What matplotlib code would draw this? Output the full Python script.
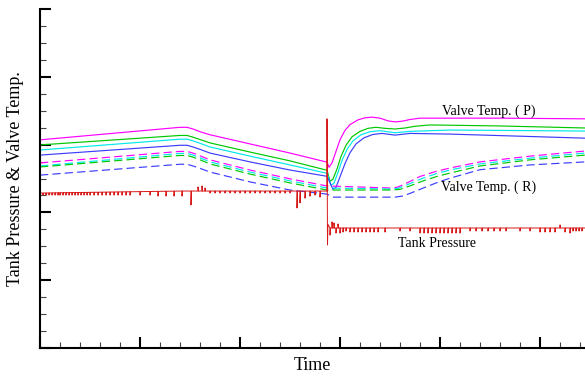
import matplotlib
matplotlib.use('Agg')
import matplotlib.pyplot as plt
from matplotlib.ticker import MultipleLocator, NullFormatter

plt.rcParams['font.family'] = ['Liberation Serif', 'DejaVu Serif']

# valve temperatures (P side, solid lines)
p_mag_t = [0, 140, 147, 153, 160, 170, 210, 250, 286, 287, 289, 292, 296, 300, 305, 310, 318, 325, 332, 340, 348, 355, 362, 370, 380, 460, 545]
p_mag_v = [61.4, 65.1, 65.1, 64.6, 63.8, 62.9, 60.2, 57.5, 54.9, 54.9, 53.3, 54.6, 58.0, 61.4, 64.2, 65.9, 67.3, 67.9, 68.1, 67.8, 67.0, 66.7, 66.9, 67.4, 67.8, 67.8, 67.6]
p_grn_t = [0, 140, 147, 153, 160, 170, 210, 250, 286, 287, 290, 293, 297, 301, 306, 312, 320, 328, 336, 345, 355, 365, 375, 390, 460, 545]
p_grn_v = [59.9, 62.7, 62.7, 62.2, 61.5, 60.5, 57.8, 55.2, 52.5, 52.5, 49.2, 49.8, 52.8, 56.5, 59.8, 62.3, 63.9, 64.8, 65.1, 64.8, 64.6, 64.9, 65.4, 65.8, 65.5, 64.9]
p_cyn_t = [0, 140, 147, 153, 160, 170, 210, 250, 286, 287, 291, 294, 298, 302, 307, 313, 321, 330, 340, 355, 370, 410, 545]
p_cyn_v = [58.4, 61.6, 61.6, 61.1, 60.4, 59.3, 56.6, 54.0, 51.6, 51.6, 48.0, 48.6, 51.8, 55.3, 58.6, 61.1, 62.9, 63.8, 64.1, 63.5, 63.9, 64.3, 64.0]
p_blu_t = [0, 140, 147, 153, 160, 170, 210, 250, 286, 287, 293, 296, 300, 305, 310, 316, 324, 333, 342, 355, 370, 410, 545]
p_blu_v = [56.9, 59.8, 59.8, 59.3, 58.6, 57.5, 54.9, 52.5, 50.7, 50.7, 46.8, 47.4, 50.5, 54.4, 57.6, 60.2, 62.0, 63.0, 63.3, 62.8, 63.3, 63.1, 61.9]

# valve temperatures (R side, dashed lines)
r_mag_t = [0, 140, 147, 153, 160, 170, 210, 250, 287, 350, 357, 365, 380, 395, 410, 440, 490, 545]
r_mag_v = [54.6, 58.0, 58.0, 57.5, 56.7, 55.5, 52.5, 49.9, 47.8, 47.2, 47.4, 48.4, 50.6, 52.0, 53.1, 54.9, 56.6, 58.1]
r_cyn_t = [0, 140, 147, 153, 160, 170, 210, 250, 287, 350, 358, 366, 382, 396, 410, 440, 490, 545]
r_cyn_v = [53.7, 57.4, 57.4, 56.9, 56.1, 54.9, 51.9, 49.3, 47.2, 46.9, 47.1, 48.0, 50.0, 51.4, 52.5, 54.3, 56.0, 57.5]
r_grn_t = [0, 140, 147, 153, 160, 170, 210, 250, 287, 352, 360, 368, 385, 398, 410, 440, 490, 545]
r_grn_v = [53.4, 56.8, 56.8, 56.3, 55.5, 54.3, 51.3, 48.7, 46.6, 46.6, 46.8, 47.6, 49.5, 50.7, 51.6, 53.7, 55.5, 56.9]
r_blu_t = [0, 140, 147, 153, 160, 170, 210, 250, 287, 293, 355, 362, 370, 385, 398, 410, 440, 490, 545]
r_blu_v = [51.0, 54.2, 54.2, 53.7, 53.0, 51.9, 49.0, 46.6, 45.4, 44.5, 44.5, 44.8, 45.6, 47.4, 48.9, 50.1, 52.6, 54.0, 54.9]

# tank pressure: base levels and spike tips
tp_base_t = [0, 140, 287, 288, 545]
tp_base_v = [45.7, 46.3, 46.3, 35.4, 35.4]
tp_spike_t = [3, 6, 9, 12, 15, 18, 20, 23, 26, 29, 32, 35, 38, 41, 44, 47, 50, 54, 58, 62, 66, 70, 74,
              78, 82, 86, 90, 100, 110, 118, 126, 134, 142,
              151, 158, 162, 165, 170, 175, 180, 185, 190, 195, 200, 205, 210, 215, 220, 225, 230, 235,
              240, 245, 250, 257, 260, 265, 270, 275, 280,
              287, 287.5,
              290, 292, 294, 296, 298, 300, 303, 306, 310, 314, 318, 322, 326, 330, 334, 338, 345, 360, 370,
              380, 384, 388, 392, 396, 400, 404, 408, 412, 416, 420, 430, 436, 442, 448, 454, 460, 466,
              480, 490, 500, 505, 510, 515, 520, 525, 530, 533, 536, 539, 542]
tp_spike_v = [45.1, 45.1, 45.1, 45.1, 45.1, 45.1, 45.1, 45.1, 45.1, 45.1, 45.1, 45.1, 45.1, 45.1, 45.1,
              45.1, 45.1, 45.1, 45.1, 45.1, 45.1, 45.1, 45.1, 45.1, 45.1, 45.1, 45.1, 45.1, 45.1, 44.8,
              44.8, 44.8, 44.8,
              42.2, 47.5, 47.8, 47.2, 45.7, 45.7, 45.7, 45.7, 45.7, 45.7, 45.7, 45.7, 45.7, 45.7, 45.7,
              45.7, 45.7, 45.7, 45.7, 45.7, 45.7, 41.3, 42.8, 44.2, 44.8, 45.1, 44.5,
              67.6, 30.4,
              33.3, 37.2, 36.9, 33.9, 36.6, 33.9, 34.2, 34.5, 34.2, 34.2, 34.2, 34.2, 34.2, 34.2, 34.2,
              34.2, 34.2, 34.5, 34.5,
              33.9, 33.9, 33.9, 33.9, 33.9, 33.9, 33.9, 33.9, 33.9, 33.9, 33.9, 34.5, 34.5, 34.5, 34.5,
              34.5, 34.5, 34.5,
              34.5, 34.5, 34.2, 34.2, 34.2, 34.2, 36.3, 34.2, 33.9, 34.5, 34.5, 34.5, 34.5]


def base_at(t):
    for i in range(len(tp_base_t) - 1):
        if tp_base_t[i] <= t <= tp_base_t[i + 1]:
            t0, t1 = tp_base_t[i], tp_base_t[i + 1]
            v0, v1 = tp_base_v[i], tp_base_v[i + 1]
            return v0 + (v1 - v0) * (t - t0) / (t1 - t0)
    return tp_base_v[-1]


# build the pressure trace from base + spikes
tp_t, tp_v = [], []
marks = sorted(zip(tp_spike_t, tp_spike_v))
cur = 0
for st, sv in marks:
    if st > cur:
        tp_t += [cur, st]
        tp_v += [base_at(cur), base_at(st)]
    tp_t += [st, st + 0.4]
    tp_v += [sv, base_at(st + 0.4)]
    cur = st + 0.4
tp_t += [cur, 545]
tp_v += [base_at(cur), base_at(545)]

fig = plt.figure(figsize=(5.85, 3.76), dpi=100)
ax = fig.add_axes([40 / 585, 28 / 376, 545 / 585, 339 / 376])

lw = 0.85
ax.plot(p_mag_t, p_mag_v, color='#ff00ff', lw=lw)
ax.plot(p_grn_t, p_grn_v, color='#00c800', lw=lw)
ax.plot(p_cyn_t, p_cyn_v, color='#00e8e8', lw=lw)
ax.plot(p_blu_t, p_blu_v, color='#3c3cff', lw=lw)

dash = (0, (7, 3.5))
ax.plot(r_mag_t, r_mag_v, color='#ff00ff', lw=lw, ls=dash)
ax.plot(r_cyn_t, r_cyn_v, color='#00e8e8', lw=lw, ls=dash)
ax.plot(r_grn_t, r_grn_v, color='#00c800', lw=lw, ls=dash)
ax.plot(r_blu_t, r_blu_v, color='#3c3cff', lw=lw, ls=dash)

ax.plot(tp_t, tp_v, color='#d81818', lw=0.7)

ax.text(449, 69.9, 'Valve Temp. ( P)', ha='center', va='center', fontsize=10)
ax.text(449, 47.4, 'Valve Temp. ( R)', ha='center', va='center', fontsize=10)
ax.text(397, 30.9, 'Tank Pressure', ha='center', va='center', fontsize=10)

ax.set_xlim(0, 545)
ax.set_ylim(0, 100)
ax.xaxis.set_major_locator(MultipleLocator(100))
ax.xaxis.set_minor_locator(MultipleLocator(20))
ax.yaxis.set_major_locator(MultipleLocator(20))
ax.yaxis.set_minor_locator(MultipleLocator(5))
ax.xaxis.set_major_formatter(NullFormatter())
ax.yaxis.set_major_formatter(NullFormatter())
ax.tick_params(which='major', direction='in', length=8, width=1.5, color='black')
ax.tick_params(which='minor', direction='in', length=4, width=0.8, color='#444444')
ax.tick_params(top=False, right=False)

ax.spines['top'].set_visible(False)
ax.spines['right'].set_visible(False)
ax.spines['left'].set_linewidth(1.5)
ax.spines['bottom'].set_linewidth(1.5)

ax.set_xlabel('Time', fontsize=13, labelpad=3)
ax.set_ylabel('Tank Pressure & Valve Temp.', fontsize=13, labelpad=8)

plt.savefig('out.png', dpi=100)
